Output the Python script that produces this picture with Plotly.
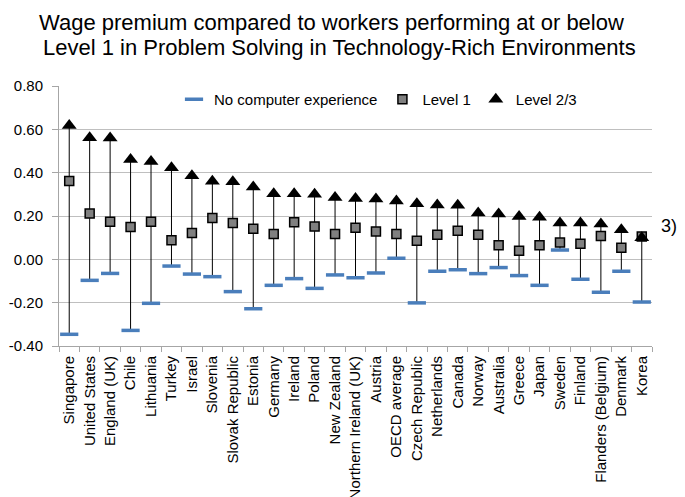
import plotly.graph_objects as go

countries = ["Singapore", "United States", "England (UK)", "Chile", "Lithuania", "Turkey",
             "Israel", "Slovenia", "Slovak Republic", "Estonia", "Germany", "Ireland",
             "Poland", "New Zealand", "Northern Ireland (UK)", "Austria", "OECD average",
             "Czech Republic", "Netherlands", "Canada", "Norway", "Australia", "Greece",
             "Japan", "Sweden", "Finland", "Flanders (Belgium)", "Denmark", "Korea"]

no_computer = [-0.346, -0.097, -0.065, -0.328, -0.203, -0.031, -0.068, -0.080, -0.149,
               -0.228, -0.120, -0.089, -0.134, -0.072, -0.085, -0.063, 0.005, -0.201,
               -0.055, -0.048, -0.066, -0.038, -0.075, -0.120, 0.043, -0.092, -0.152,
               -0.055, -0.197]

level1 = [0.361, 0.211, 0.174, 0.149, 0.174, 0.088, 0.121, 0.191, 0.168, 0.141, 0.117,
          0.171, 0.151, 0.117, 0.146, 0.129, 0.117, 0.086, 0.114, 0.132, 0.114, 0.065,
          0.040, 0.065, 0.078, 0.072, 0.108, 0.054, 0.105]

level23 = [0.618, 0.561, 0.560, 0.461, 0.451, 0.423, 0.386, 0.360, 0.358, 0.334, 0.303,
           0.303, 0.300, 0.285, 0.281, 0.278, 0.269, 0.257, 0.251, 0.250, 0.214, 0.209,
           0.198, 0.194, 0.168, 0.168, 0.163, 0.137, 0.100]

y_ticks = [-0.4, -0.2, 0.0, 0.2, 0.4, 0.6, 0.8]
y_tick_labels = ["-0.40", "-0.20", "0.00", "0.20", "0.40", "0.60", "0.80"]

title_lines = ["Wage premium compared to workers performing at or below",
               "Level 1 in Problem Solving in Technology-Rich Environments"]

FONT = "Liberation Sans, Arial, sans-serif"

OFF = 8  # default page body margin
W, H = 685 - OFF, 497 - OFF
ML, MR, MT, MB = 51, 33, 78, 151
PH = H - MT - MB
PW = W - ML - MR


def py(screen_y):
    return (H - MB - (screen_y - OFF)) / PH


def px(screen_x):
    return (screen_x - OFF - ML) / PW


# high-low lines
hl_x, hl_y = [], []
for c, a, b, d in zip(countries, no_computer, level1, level23):
    vals = [a, b, d]
    hl_x += [c, c, None]
    hl_y += [min(vals), max(vals), None]

fig = go.Figure()
fig.add_trace(go.Scatter(x=hl_x, y=hl_y, mode="lines", line=dict(color="#000000", width=1),
                         showlegend=False, hoverinfo="skip"))
fig.add_trace(go.Scatter(x=countries, y=no_computer, mode="markers", name="No computer experience",
                         marker=dict(symbol="line-ew", size=13,
                                     line=dict(color="#4A7EBB", width=3.5))))
fig.add_trace(go.Scatter(x=countries, y=level1, mode="markers", name="Level 1",
                         marker=dict(symbol="square", size=9, color="#808080",
                                     line=dict(color="#000000", width=1.5))))
fig.add_trace(go.Scatter(x=countries, y=level23, mode="markers", name="Level 2/3",
                         marker=dict(symbol="triangle-up", size=13, color="#000000",
                                     line=dict(width=0))))

fig.update_layout(
    width=W, height=H,
    paper_bgcolor="white", plot_bgcolor="white",
    margin=dict(l=ML, r=MR, t=MT, b=MB, autoexpand=False),
    font=dict(family=FONT, size=15, color="#000000"),
    legend=dict(orientation="h", x=px(174), y=py(83), xanchor="left", yanchor="top",
                bgcolor="rgba(0,0,0,0)", font=dict(size=15), itemwidth=30,
                tracegroupgap=0),
    showlegend=True,
)
fig.update_xaxes(type="category", categoryorder="array", categoryarray=countries,
                 range=[-0.5, len(countries) - 0.5], tickangle=-90, automargin=False,
                 tickson="boundaries", ticks="outside", ticklen=5, tickcolor="#A6A6A6",
                 showline=True, linecolor="#A6A6A6", linewidth=1, showgrid=False,
                 ticklabelstandoff=3, tickfont=dict(size=15))
fig.update_yaxes(range=[-0.4, 0.8], tickvals=y_ticks, ticktext=y_tick_labels, automargin=False,
                 showgrid=True, gridcolor="#BFBFBF", gridwidth=1, zeroline=False,
                 showline=True, linecolor="#A6A6A6", linewidth=1,
                 ticks="outside", ticklen=6, tickcolor="#A6A6A6",
                 ticklabelstandoff=6, tickfont=dict(size=15))

for txt, ycen, xc in zip(title_lines, [22, 47], [331, 339]):
    fig.add_annotation(text=txt, xref="paper", yref="paper", x=px(xc), y=py(ycen),
                       xanchor="center", yanchor="middle", showarrow=False,
                       font=dict(family=FONT, size=22, color="#000000"))

fig.add_annotation(text="3)", xref="paper", yref="paper", x=px(678), y=py(226),
                   xanchor="right", yanchor="middle", showarrow=False, borderpad=0,
                   font=dict(family=FONT, size=18, color="#000000"))

fig.write_html("out.html")
